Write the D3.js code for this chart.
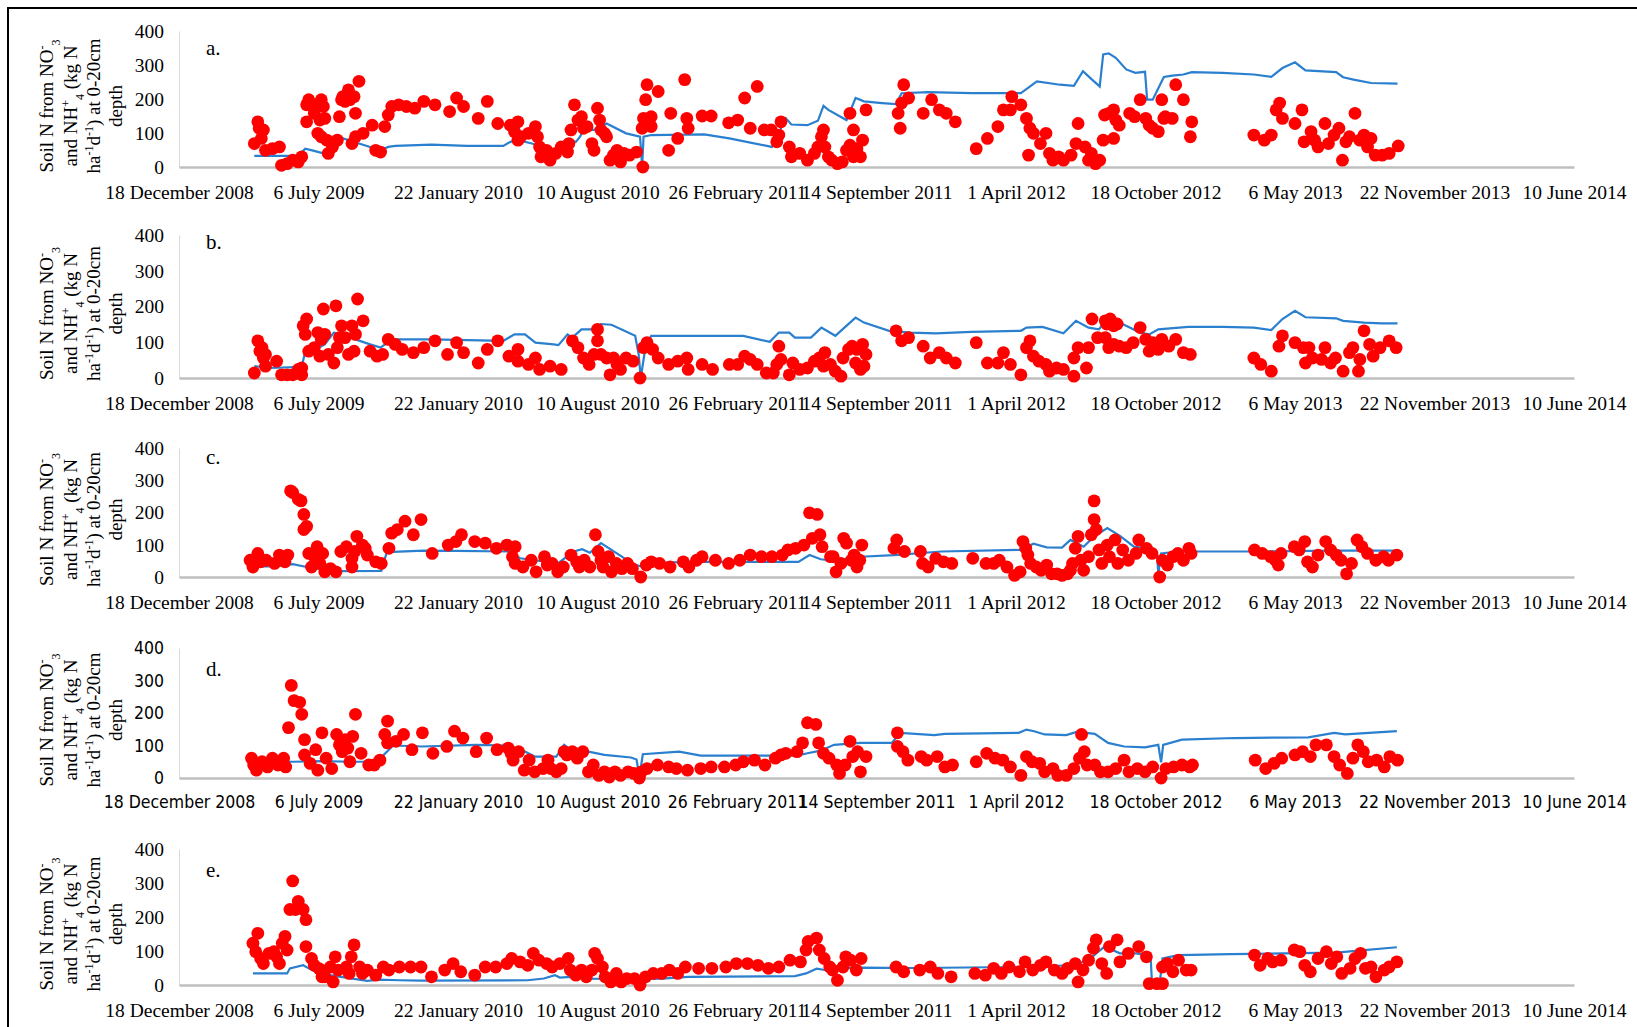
<!DOCTYPE html>
<html>
<head>
<meta charset="utf-8">
<script src="https://cdn.jsdelivr.net/npm/d3@7"></script>
<style>
  body { margin: 0; background: #fff; }
  svg { display: block; }
</style>
</head>
<body>
<div id="chart"></div>
<script>
// dates on the x axis, every 200 days
var tickLabels = ["18 December 2008", "6 July 2009", "22 January 2010", "10 August 2010",
  "26 February 2011", "14 September 2011", "1 April 2012", "18 October 2012",
  "6 May 2013", "22 November 2013", "10 June 2014"];
var yTicks = [0, 100, 200, 300, 400];
var panelNames = ["a.", "b.", "c.", "d.", "e."];

var obsA = [[108,69],[113,133],[115,114],[121,109],[118,84],[124,49],[134,54],[144,59],[147,5],[155,10],[163,20],[171,15],[176,30],[183,183],[183,133],[186,198],[194,158],[196,183],[204,198],[207,178],[202,138],[209,143],[199,99],[204,89],[212,79],[214,40],[220,59],[227,79],[230,148],[233,198],[235,207],[243,227],[238,193],[245,198],[251,207],[253,158],[258,252],[253,89],[248,69],[264,99],[277,123],[282,49],[289,44],[295,119],[300,153],[305,178],[315,183],[326,178],[338,173],[351,193],[367,183],[388,163],[398,203],[408,178],[429,143],[442,193],[457,128],[475,123],[486,133],[481,104],[490,89],[486,79],[501,99],[511,119],[514,89],[517,59],[519,30],[527,49],[532,20],[540,40],[548,59],
  [559,69],[557,44],[562,109],[567,183],[572,138],[577,148],[580,114],[585,119],[592,69],[595,49],[600,173],[603,138],[605,109],[610,99],[613,89],[618,20],[623,35],[628,49],[633,15],[638,40],[646,35],[656,44],[665,0],[664,114],[666,143],[669,198],[671,242],[677,148],[677,119],[687,222],[702,49],[705,158],[715,84],[725,257],[728,143],[730,114],[750,150],[763,150],[788,130],[801,138],[811,203],[819,114],[829,237],[839,109],[849,109],[857,74],[860,94],[863,133],[875,59],[878,30],[890,40],[901,20],[911,40],[916,59],[921,89],[924,109],[926,59],[931,30],[936,20],[944,10],[951,15],[957,49],[962,64],[967,109],[967,30],[972,54],[977,30],[980,79],[962,158],[985,168],[1031,158],[1034,114],[1036,188],[1039,242],[1046,203],[1067,158],[1079,198],[1090,168],[1100,158],[1113,133],[1143,54],[1159,84],[1174,119],[1182,168],[1194,207],[1192,168],[1207,183],[1215,143],[1220,114],[1225,99],[1218,35],[1235,69],[1243,99],[1248,40],[1253,20],[1261,30],[1268,20],[1279,35],[1289,128],[1286,69],[1299,59],[1304,20],[1314,10],[1308,40],[1320,20],
  [1325,79],[1327,153],[1333,158],[1340,168],[1343,138],[1348,123],[1340,84],[1363,158],[1370,148],[1378,198],[1386,143],[1391,123],[1396,114],[1404,104],[1409,198],[1412,143],[1414,148],[1424,143],[1429,242],[1440,198],[1450,89],[1452,133],[1541,94],[1556,79],[1566,94],[1573,168],[1578,188],[1582,143],[1600,128],[1610,168],[1613,74],[1623,104],[1628,79],[1633,59],[1643,128],[1648,69],[1656,94],[1663,114],[1668,20],[1673,74],[1678,89],[1686,158],[1693,79],[1699,94],[1704,59],[1709,84],[1715,35],[1725,35],[1735,40],[1748,62]];
var simA = [[108,33],[171,33],[181,54],[191,49],[207,40],[212,38],[227,89],[243,79],[258,69],[274,59],[289,49],[300,59],[310,62],[362,66],[413,62],[465,62],[475,74],[486,79],[506,69],[522,59],[539,49],[554,79],[569,74],[575,89],[580,109],[595,109],[613,128],[641,99],[661,89],[664,0],[666,89],[677,94],[753,96],[789,84],[850,59],[870,143],[878,125],[901,123],[916,136],[924,180],[931,168],[957,138],[970,203],[982,193],[1008,188],[1028,185],[1036,217],[1074,220],[1136,217],[1207,217],[1230,252],[1263,242],[1283,239],[1296,282],[1309,257],[1320,237],[1325,331],[1333,334],[1343,321],[1358,287],[1371,277],[1385,280],[1388,198],[1396,198],[1412,265],[1424,269],[1440,272],[1452,279],[1496,277],[1541,272],[1566,265],[1582,291],[1600,308],[1615,284],[1659,279],[1669,264],[1684,257],[1709,247],[1747,245]];

var obsB = [[108,14],[113,104],[116,75],[121,56],[124,33],[119,85],[124,66],[140,47],[147,9],[155,9],[163,9],[171,24],[176,28],[176,9],[178,146],[181,122],[183,165],[186,75],[194,85],[199,127],[202,61],[204,108],[207,193],[209,122],[214,66],[222,42],[225,202],[227,85],[230,113],[233,146],[238,113],[243,66],[248,146],[251,75],[253,122],[256,221],[264,160],[274,75],[284,61],[292,66],[300,108],[310,94],[320,80],[336,71],[351,85],[367,104],[385,66],[398,99],[408,71],[429,42],[442,80],[457,104],[473,61],[486,80],[486,47],[501,38],[511,56],[517,24],[532,33],[548,24],
  [564,104],[572,85],[580,56],[588,38],[595,66],[600,136],[600,104],[605,66],[613,56],[618,9],[623,56],[628,38],[633,24],[641,56],[651,47],[661,0],[666,85],[671,99],[679,80],[687,56],[702,38],[715,47],[728,56],[730,24],[750,38],[765,24],[789,38],[801,38],[811,61],[819,52],[829,38],[842,14],[852,14],[860,89],[857,38],[863,52],[875,9],[880,42],[890,24],[901,28],[911,47],[918,56],[926,71],[924,33],[934,38],[941,19],[949,5],[952,56],[960,80],[965,89],[970,42],[972,80],[977,24],[980,94],[982,33],[985,66],[1028,132],[1036,104],[1046,113],[1067,89],[1077,56],[1090,71],[1100,56],[1113,42],[1143,99],[1159,42],[1174,42],[1182,71],[1192,38],[1207,9],[1215,85],[1220,104],[1225,61],[1233,47],[1243,38],[1248,19],[1258,28],[1268,24],[1283,5],[1283,56],[1289,85],[1301,28],[1304,85],[1309,165],[1317,113],
  [1328,160],[1330,151],[1335,165],[1340,146],[1345,151],[1328,113],[1333,85],[1340,94],[1348,89],[1358,85],[1368,99],[1378,141],[1386,108],[1391,75],[1396,99],[1404,80],[1409,108],[1419,89],[1429,108],[1440,71],[1450,66],[1541,56],[1551,38],[1566,19],[1577,89],[1582,118],[1600,99],[1612,85],[1620,85],[1615,42],[1625,56],[1638,52],[1643,85],[1651,42],[1658,56],[1669,19],[1678,71],[1683,85],[1691,19],[1693,52],[1699,132],[1707,94],[1712,61],[1722,85],[1735,104],[1745,85]];
var simB = [[108,33],[129,28],[176,31],[181,75],[191,75],[209,94],[222,127],[235,122],[253,108],[274,94],[289,85],[305,108],[362,108],[465,104],[481,122],[496,122],[511,99],[537,94],[544,92],[557,122],[564,113],[577,136],[600,136],[605,151],[620,149],[654,118],[659,66],[662,0],[669,89],[677,118],[728,118],[809,118],[847,101],[860,127],[875,127],[883,113],[906,113],[921,141],[941,118],[954,141],[970,169],[982,155],[1018,132],[1049,127],[1085,125],[1136,129],[1207,132],[1215,141],[1238,143],[1268,125],[1286,160],[1304,141],[1319,136],[1333,174],[1343,160],[1363,141],[1378,127],[1391,122],[1404,136],[1447,143],[1496,143],[1541,141],[1566,134],[1582,165],[1600,188],[1615,170],[1659,167],[1669,160],[1699,155],[1724,153],[1747,153]];

var obsC = [[102,52],[106,31],[113,73],[117,47],[125,52],[137,42],[144,68],[152,47],[156,68],[160,267],[163,262],[171,241],[175,236],[179,194],[179,147],[183,157],[186,73],[190,31],[194,63],[198,94],[202,42],[209,16],[206,73],[217,26],[225,16],[232,79],[240,94],[248,58],[248,31],[255,126],[267,89],[252,79],[270,68],[263,99],[282,47],[290,42],[301,89],[305,136],[313,147],[324,173],[336,131],[347,178],[363,73],[386,99],[397,110],[405,131],[424,110],[439,105],[455,89],[470,99],[482,94],[478,63],[482,42],[493,31],[505,52],[512,16],[524,63],[528,37],[535,42],[543,16],[551,31],[562,68],[570,47],[574,31],[581,52],[589,31],[597,131],[601,79],[605,52],[608,31],[616,63],[620,16],[627,42],[635,26],[643,42],[650,26],[662,0],[670,37],[677,47],[689,42],[704,31],[723,47],[731,31],[742,52],[750,63],[769,52],[788,42],[804,52],[819,68],[835,63],[850,63],[865,68],[873,84],[884,89],[896,99],[904,199],[915,194],[908,120],[919,131],[922,94],[934,63],
  [938,63],[942,16],[949,42],[953,120],[957,105],[964,52],[968,68],[972,31],[976,52],[979,99],[1025,89],[1029,115],[1040,79],[1063,79],[1066,42],[1074,31],[1085,58],[1096,47],[1108,42],[1138,58],[1157,42],[1168,42],[1176,52],[1187,31],[1198,5],[1206,16],[1210,110],[1214,89],[1217,68],[1221,42],[1229,31],[1236,21],[1244,37],[1251,10],[1259,10],[1266,5],[1274,10],[1278,21],[1281,42],[1285,89],[1289,126],[1293,52],[1297,21],[1304,63],[1308,131],[1312,178],[1312,236],[1315,147],[1319,84],[1323,42],[1331,99],[1334,63],[1342,115],[1346,42],[1353,84],[1361,52],[1372,73],[1376,115],[1387,89],[1395,73],[1406,0],[1410,52],[1417,37],[1425,63],[1432,73],[1440,52],[1448,89],[1451,73],[1542,84],[1553,73],[1565,63],[1572,52],[1576,37],[1580,73],[1599,94],[1606,84],[1614,110],[1618,47],[1625,31],[1633,68],[1644,110],[1651,84],[1659,68],[1666,52],[1674,10],[1681,42],[1689,115],[1696,94],[1704,73],[1716,52],[1727,63],[1734,52],[1746,68]];
var simC = [[102,33],[137,33],[163,40],[183,31],[198,26],[213,21],[232,18],[290,19],[298,77],[351,82],[397,81],[474,79],[489,58],[543,42],[566,79],[578,86],[589,75],[605,105],[635,63],[650,40],[666,31],[681,44],[735,47],[888,47],[904,68],[920,55],[940,50],[970,62],[1025,68],[1093,79],[1206,84],[1225,103],[1244,92],[1266,91],[1278,115],[1297,94],[1312,126],[1331,152],[1350,126],[1369,94],[1387,89],[1402,75],[1404,10],[1408,73],[1432,79],[1546,79],[1659,82],[1748,82]];

var obsD = [[104,61],[107,40],[111,24],[119,50],[127,34],[134,61],[142,40],[150,61],[153,34],[157,155],[161,285],[165,238],[173,233],[176,196],[180,118],[180,71],[188,45],[196,87],[199,24],[205,139],[211,61],[219,29],[226,134],[230,102],[234,81],[238,118],[242,92],[245,50],[249,128],[253,196],[261,76],[272,40],[280,40],[288,55],[295,134],[299,175],[299,108],[311,113],[322,134],[334,87],[349,139],[364,76],[384,97],[395,144],[407,123],[426,81],[441,123],[456,87],[472,92],[476,76],[479,55],[487,81],[495,24],[502,55],[510,19],[522,29],[529,55],[533,29],[541,19],[548,29],[552,81],[556,71],[564,81],[571,61],[579,81],[587,19],[594,40],[602,8],[610,19],[617,3],[625,19],[633,8],[644,19],[652,14],[660,0],[663,19],[671,29],[686,40],[702,34],[713,29],[729,24],[748,29],[763,34],[782,34],[798,40],[809,50],[825,55],[840,40],[855,61],[863,71],[870,76],[886,81],[894,108],[901,170],[913,165],[917,108],[924,76],[932,61],
  [943,40],[947,14],[955,40],[962,113],[966,66],[973,81],[977,19],[985,66],[1030,139],[1030,97],[1038,81],[1045,55],[1064,66],[1072,55],[1087,66],[1098,34],[1109,40],[1143,50],[1158,76],[1170,61],[1181,55],[1192,34],[1207,8],[1215,66],[1223,50],[1234,45],[1241,19],[1253,29],[1260,8],[1272,8],[1283,29],[1291,61],[1294,134],[1298,81],[1302,40],[1313,40],[1321,19],[1332,19],[1343,29],[1355,55],[1362,19],[1374,29],[1385,19],[1396,34],[1408,0],[1415,29],[1426,34],[1438,40],[1449,34],[1453,40],[1543,55],[1558,29],[1570,45],[1581,61],[1600,71],[1611,81],[1622,66],[1630,102],[1645,102],[1656,66],[1664,40],[1675,14],[1683,61],[1690,102],[1698,81],[1705,50],[1717,55],[1728,34],[1736,66],[1747,55]];
var simD = [[104,50],[165,50],[203,52],[249,50],[280,50],[291,66],[307,100],[349,97],[426,102],[472,100],[491,87],[510,66],[541,66],[552,102],[564,84],[587,81],[610,71],[648,63],[656,57],[660,3],[665,73],[717,81],[748,69],[886,69],[901,76],[920,84],[939,102],[977,108],[1022,108],[1034,139],[1083,132],[1098,136],[1204,139],[1215,149],[1226,144],[1241,134],[1272,132],[1287,142],[1313,136],[1332,108],[1355,97],[1385,94],[1404,102],[1408,48],[1411,102],[1438,118],[1513,123],[1619,125],[1656,139],[1672,134],[1746,144]];

var obsE = [[106,123],[110,98],[113,152],[117,78],[121,63],[129,93],[136,98],[140,83],[144,63],[148,123],[152,143],[155,103],[159,222],[163,306],[167,222],[171,246],[178,222],[182,192],[182,113],[190,78],[194,58],[201,48],[205,24],[209,24],[217,53],[221,9],[224,83],[228,44],[240,53],[244,34],[247,83],[251,118],[259,53],[263,34],[270,44],[282,29],[293,53],[301,44],[316,53],[332,53],[347,53],[362,24],[381,44],[393,63],[404,39],[424,29],[439,53],[454,53],[470,63],[477,78],[489,68],[500,58],[508,93],[516,73],[527,63],[535,53],[546,63],[558,78],[561,44],[569,29],[577,44],[584,24],[592,44],[596,93],[600,78],[607,53],[611,24],[619,9],[627,34],[634,9],[642,19],[653,19],[661,0],[669,24],[680,34],[692,34],[703,44],[715,34],[726,53],[745,49],[764,49],[784,53],[799,63],[815,63],[830,58],[845,49],[860,53],[876,73],[891,68],[899,103],[902,128],[914,138],[918,103],[925,78],[933,53],
  [937,44],[944,14],[952,53],[956,83],[963,73],[971,44],[978,78],[1028,53],[1039,39],[1062,44],[1077,53],[1088,34],[1107,24],[1141,34],[1156,29],[1168,49],[1179,34],[1190,53],[1205,39],[1213,68],[1224,44],[1235,58],[1243,68],[1255,44],[1266,34],[1274,49],[1285,63],[1289,9],[1296,44],[1304,73],[1311,108],[1315,133],[1323,63],[1330,34],[1334,113],[1345,133],[1349,68],[1361,93],[1376,113],[1387,83],[1391,4],[1402,4],[1410,4],[1410,53],[1417,63],[1425,39],[1433,73],[1444,44],[1451,44],[1542,88],[1550,58],[1561,78],[1568,68],[1580,73],[1599,103],[1607,98],[1614,58],[1622,39],[1633,78],[1645,98],[1652,63],[1660,83],[1667,34],[1679,49],[1686,78],[1694,93],[1701,49],[1709,53],[1716,24],[1728,44],[1735,53],[1746,68]];
var simE = [[106,34],[155,34],[159,49],[178,58],[186,49],[201,34],[232,24],[270,12],[286,16],[316,14],[347,13],[500,14],[523,19],[539,29],[546,22],[561,24],[592,19],[653,17],[692,19],[730,24],[883,26],[899,34],[914,48],[933,42],[950,50],[978,51],[1054,50],[1205,53],[1281,58],[1304,73],[1315,93],[1327,113],[1349,93],[1372,93],[1387,88],[1393,83],[1395,4],[1406,4],[1410,78],[1433,88],[1508,91],[1584,93],[1660,95],[1675,98],[1746,111]];

var obsSets = [obsA, obsB, obsC, obsD, obsE];
var simSets = [simA, simB, simC, simD, simE];

// layout of each panel (pixel rows of the 0 and 400 gridlines, label offset)
var layout = [
  {y0: 167, y400: 31,  labelDy: 24, font: "serif"},
  {y0: 378, y400: 235, labelDy: 14, font: "serif"},
  {y0: 577, y400: 448, labelDy: 16, font: "serif"},
  {y0: 778, y400: 648, labelDy: 28, font: "sans"},
  {y0: 985, y400: 849, labelDy: 28, font: "serif"}
];

var W = 1637, H = 1027;
var serif = "'Liberation Serif', 'Times New Roman', serif";
var sans = "'Liberation Sans Narrow', 'DejaVu Sans Condensed', 'Liberation Sans', sans-serif";
var red = "#ff0000", blue = "#2a7fcf";

var parseDay = d3.timeParse("%d %B %Y");
var tickDates = tickLabels.map(parseDay);
var start = tickDates[0];

var x = d3.scaleTime()
    .domain([tickDates[0], tickDates[tickDates.length - 1]])
    .range([179, 1574]);

var svg = d3.select("#chart").append("svg")
    .attr("width", W)
    .attr("height", H);

svg.append("rect").attr("width", W).attr("height", H).attr("fill", "#fff");
// outer frame, cut off at right and bottom like the figure
svg.append("rect")
    .attr("x", 8).attr("y", 8)
    .attr("width", W + 20).attr("height", H + 20)
    .attr("fill", "none").attr("stroke", "#000").attr("stroke-width", 2);

var toDate = function(d) { return d3.timeDay.offset(start, d[0]); };

layout.forEach(function(p, i) {
  var y = d3.scaleLinear().domain([0, 400]).range([p.y0, p.y400]);
  var tickFont = p.font === "sans" ? sans : serif;
  var g = svg.append("g");

  var yAxis = g.append("g")
      .attr("transform", "translate(" + x.range()[0] + ",0)")
      .call(d3.axisLeft(y).tickValues(yTicks).tickSize(0).tickPadding(15));
  yAxis.select(".domain").attr("stroke", "#d9d9d9").attr("stroke-width", 1);
  yAxis.selectAll("text").attr("font-family", tickFont).attr("font-size", p.font === "sans" ? 17.5 : 19.5).attr("fill", "#000");

  var xAxis = g.append("g")
      .attr("transform", "translate(0," + p.y0 + ")")
      .call(d3.axisBottom(x).tickValues(tickDates).tickSize(0).tickPadding(18)
            .tickFormat(function(d, k) { return tickLabels[k]; }));
  xAxis.select(".domain").attr("stroke", "#bfbfbf").attr("stroke-width", 2.5);
  xAxis.selectAll("text").attr("font-family", tickFont).attr("font-size", p.font === "sans" ? 17.5 : 19.5).attr("fill", "#000");

  // y axis title, four rotated lines
  var cy = (p.y0 + p.y400) / 2 + 7;
  var title = g.append("text")
      .attr("transform", "translate(0," + cy + ") rotate(-90)")
      .attr("text-anchor", "middle")
      .attr("font-family", serif)
      .attr("font-size", 19)
      .attr("fill", "#000");
  var lines = [
    [["Soil N from NO", 0], ["-", 1], ["3", -1]],
    [["and NH", 0], ["+", 1], ["4", -1], [" (kg N", 0]],
    [["ha", 0], ["-1", 1], ["d", 0], ["-1", 1], [") at 0-20cm", 0]],
    [["depth", 0]]
  ];
  var baseX = [53, 77, 100, 122];
  lines.forEach(function(parts, li) {
    var t = title.append("tspan").attr("x", 0).attr("y", baseX[li]);
    parts.forEach(function(pt) {
      var s = t.append("tspan").text(pt[0]);
      if (pt[1] !== 0) {
        s.attr("font-size", 12).attr("baseline-shift", pt[1] > 0 ? "super" : "sub");
      }
    });
  });

  g.append("text")
      .attr("x", 206)
      .attr("y", p.y400 + p.labelDy)
      .attr("font-family", serif)
      .attr("font-size", 21)
      .text(panelNames[i]);

  var line = d3.line()
      .x(function(d) { return x(toDate(d)); })
      .y(function(d) { return y(d[1]); });

  g.append("path")
      .datum(simSets[i])
      .attr("d", line)
      .attr("fill", "none")
      .attr("stroke", blue)
      .attr("stroke-width", 2.2);

  g.append("g").selectAll("circle")
      .data(obsSets[i])
      .join("circle")
      .attr("cx", function(d) { return x(toDate(d)); })
      .attr("cy", function(d) { return y(d[1]); })
      .attr("r", 6.4)
      .attr("fill", red);
});
</script>
</body>
</html>
